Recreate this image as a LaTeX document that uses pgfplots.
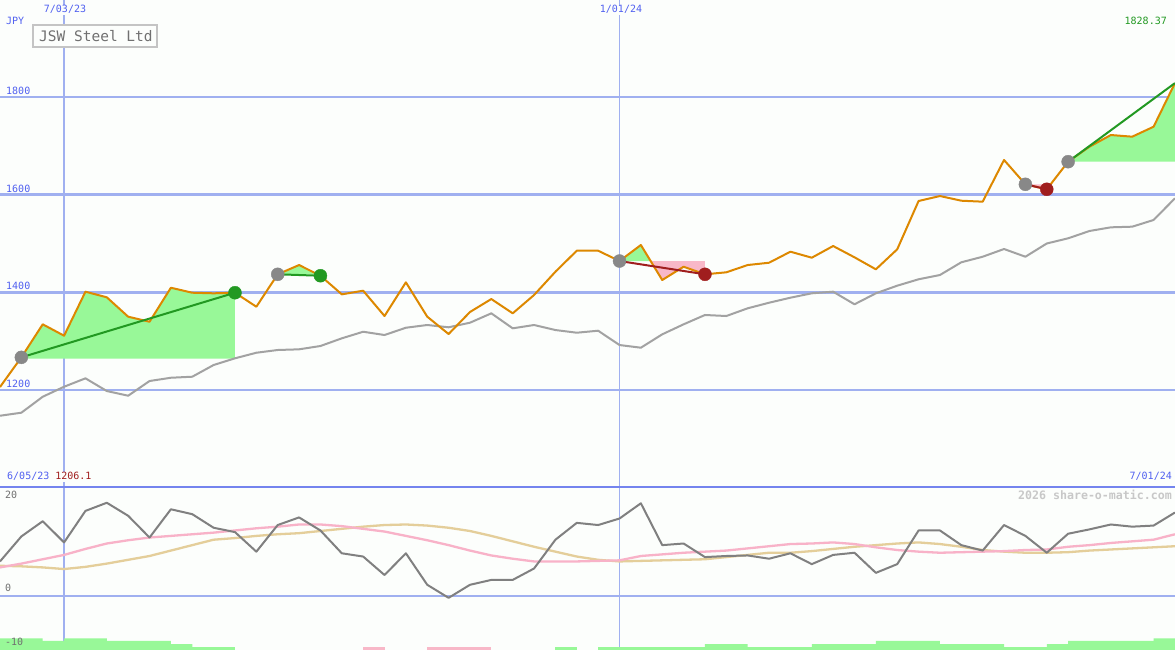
\documentclass[border=0pt]{standalone}
\usepackage{pgfplots}
\pgfplotsset{compat=1.18}
\usepackage{fontspec}
\setmainfont{DejaVu Sans Mono}

\definecolor{bgc}{RGB}{252,254,252}
\definecolor{txtblue}{RGB}{80,96,240}
\definecolor{gridblue}{RGB}{160,176,240}
\definecolor{sepblue}{RGB}{116,132,238}
\definecolor{price}{RGB}{221,136,0}
\definecolor{magray}{RGB}{162,162,162}
\definecolor{oscgray}{RGB}{128,128,128}
\definecolor{oscpink}{RGB}{248,178,200}
\definecolor{osctan}{RGB}{228,206,154}
\definecolor{fillgreen}{RGB}{152,248,152}
\definecolor{fillpink}{RGB}{248,184,200}
\definecolor{tradegreen}{RGB}{34,153,34}
\definecolor{tradered}{RGB}{160,30,30}
\definecolor{markgray}{RGB}{136,136,136}
\definecolor{boxgray}{RGB}{196,196,196}
\definecolor{titlegray}{RGB}{112,112,112}
\definecolor{wmgray}{RGB}{200,200,200}

\pgfplotsset{
  panel/.style={
    scale only axis, width=1175pt, xmin=0, xmax=55,
    hide axis, clip=true,
  },
  pline/.style={line width=2pt, line join=round, mark=none},
}

\begin{document}
\begin{tikzpicture}
\fill[bgc] (0,0) rectangle (1175pt,650pt);

% ---------------- price panel ----------------
\begin{axis}[panel, at={(0pt,163pt)}, height=487pt, ymin=1001.4, ymax=1998.6]
\draw[gridblue, line width=2.5pt] (axis cs:0,1200) -- (axis cs:55,1200);
\draw[gridblue, line width=2.5pt] (axis cs:0,1400) -- (axis cs:55,1400);
\draw[gridblue, line width=2.5pt] (axis cs:0,1600) -- (axis cs:55,1600);
\draw[gridblue, line width=2.5pt] (axis cs:0,1800) -- (axis cs:55,1800);
\draw[gridblue, line width=2.5pt] (axis cs:3,1001.4) -- (axis cs:3,1998.6);
\draw[gridblue, line width=1.2pt] (axis cs:29,1001.4) -- (axis cs:29,1998.6);

% trade areas
\addplot[fill=fillgreen, draw=none] coordinates {
  (1,1264) (1,1266.9) (2,1334.5) (3,1311.2) (4,1401.3) (5,1389.8) (6,1350.1)
  (7,1339.8) (8,1409.4) (9,1399.2) (10,1398) (11,1399.2) (11,1264)} -- cycle;
\addplot[fill=fillgreen, draw=none] coordinates {
  (13,1436.9) (14,1455.9) (14.87,1436.9)} -- cycle;
\addplot[fill=fillgreen, draw=none] coordinates {
  (29,1464.1) (30,1496.9) (30.46,1464.1)} -- cycle;
\addplot[fill=fillpink, draw=none] coordinates {
  (30.46,1464.1) (31,1425.2) (32,1452.4) (33,1436.9) (33,1464.1)} -- cycle;
\addplot[fill=fillpink, draw=none] coordinates {
  (48,1621.2) (49,1611) (49,1621.2)} -- cycle;
\addplot[fill=fillgreen, draw=none] coordinates {
  (50,1667.5) (51,1698.2) (52,1722.1) (53,1718.7) (54,1739.1) (55,1828.37)
  (55,1667.5)} -- cycle;

% moving average
\addplot[pline, magray] coordinates {
  (0,1147.3) (1,1153.5) (2,1186.2) (3,1206.7) (4,1223.9) (5,1197.9) (6,1188.3)
  (7,1218.4) (8,1225.1) (9,1227.2) (10,1251.2) (11,1264.9) (12,1276.3)
  (13,1281.9) (14,1283.3) (15,1290.1) (16,1305.8) (17,1319.3) (18,1312.6)
  (19,1327.5) (20,1333.1) (21,1328.4) (22,1337.8) (23,1357) (24,1326.3)
  (25,1333.1) (26,1322.8) (27,1317.3) (28,1321.4) (29,1292.1) (30,1286.6)
  (31,1314) (32,1334.5) (33,1353.6) (34,1351.5) (35,1367.3) (36,1378.7)
  (37,1389) (38,1398) (39,1401.3) (40,1375.5) (41,1398) (42,1413.6)
  (43,1426.7) (44,1435.5) (45,1461.5) (46,1472.9) (47,1488.7) (48,1472.9)
  (49,1500) (50,1510.6) (51,1525.6) (52,1533.1) (53,1534.4) (54,1548.1)
  (55,1592.5)};

% price
\addplot[pline, price] coordinates {
  (0,1206.1) (1,1266.9) (2,1334.5) (3,1311.2) (4,1401.3) (5,1389.8) (6,1350.1)
  (7,1339.8) (8,1409.4) (9,1399.2) (10,1398) (11,1399.2) (12,1370.5)
  (13,1436.9) (14,1455.9) (15,1434) (16,1395.9) (17,1403.3) (18,1351.5)
  (19,1420.5) (20,1350.1) (21,1314.6) (22,1359.7) (23,1386.3) (24,1357)
  (25,1394.5) (26,1442.2) (27,1485.2) (28,1485.2) (29,1464.1) (30,1496.9)
  (31,1425.2) (32,1452.4) (33,1436.9) (34,1441) (35,1455.9) (36,1460.6)
  (37,1483.2) (38,1470.9) (39,1494.8) (40,1471.7) (41,1447.1) (42,1488.1)
  (43,1587) (44,1597.2) (45,1587.6) (46,1585.6) (47,1671) (48,1621.2)
  (49,1611) (50,1667.5) (51,1698.2) (52,1722.1) (53,1718.7) (54,1739.1)
  (55,1828.37)};

% trade lines
\addplot[pline, tradegreen] coordinates {(1,1266.9) (11,1399.2)};
\addplot[pline, tradegreen] coordinates {(13,1436.9) (15,1434)};
\addplot[pline, tradegreen] coordinates {(50,1667.5) (55,1828.37)};
\addplot[pline, tradered] coordinates {(29,1464.1) (33,1436.9)};
\addplot[pline, tradered] coordinates {(48,1621.2) (49,1611)};

% trade markers
\addplot[only marks, mark=*, mark size=6.5pt, markgray, mark options={draw=none}]
  coordinates {(1,1266.9) (13,1436.9) (29,1464.1) (48,1621.2) (50,1667.5)};
\addplot[only marks, mark=*, mark size=6.5pt, tradegreen, mark options={draw=none}]
  coordinates {(11,1399.2) (15,1434)};
\addplot[only marks, mark=*, mark size=6.5pt, tradered, mark options={draw=none}]
  coordinates {(33,1436.9) (49,1611)};
\end{axis}

% ---------------- oscillator panel ----------------
\begin{axis}[panel, at={(0pt,0pt)}, height=163pt, ymin=-10, ymax=20]
\draw[gridblue, line width=2.2pt] (axis cs:0,0) -- (axis cs:55,0);
\draw[gridblue, line width=2.5pt] (axis cs:3,-10) -- (axis cs:3,20);
\draw[gridblue, line width=1.2pt] (axis cs:29,-10) -- (axis cs:29,20);

% histogram blocks
\addplot[fill=fillgreen, draw=none] coordinates {
  (0,-10) (0,-7.85) (2,-7.85) (2,-8.34) (3,-8.34) (3,-7.85) (5,-7.85)
  (5,-8.34) (8,-8.34) (8,-8.9) (9,-8.9) (9,-9.45) (11,-9.45) (11,-10)} -- cycle;
\addplot[fill=fillpink, draw=none] coordinates {
  (17,-10) (17,-9.45) (18,-9.45) (18,-10)} -- cycle;
\addplot[fill=fillpink, draw=none] coordinates {
  (20,-10) (20,-9.45) (23,-9.45) (23,-10)} -- cycle;
\addplot[fill=fillgreen, draw=none] coordinates {
  (26,-10) (26,-9.45) (27,-9.45) (27,-10)} -- cycle;
\addplot[fill=fillgreen, draw=none] coordinates {
  (28,-10) (28,-9.45) (33,-9.45) (33,-8.9) (35,-8.9) (35,-9.45) (38,-9.45)
  (38,-8.9) (41,-8.9) (41,-8.34) (44,-8.34) (44,-8.9) (47,-8.9) (47,-9.45)
  (49,-9.45) (49,-8.9) (50,-8.9) (50,-8.34) (54,-8.34) (54,-7.85) (55,-7.85)
  (55,-10)} -- cycle;

% signal lines
\addplot[pline, osctan, line width=2.3pt] coordinates {
  (0,5.5) (1,5.4) (2,5.2) (3,4.9) (4,5.3) (5,5.9) (6,6.6) (7,7.3) (8,8.3)
  (9,9.3) (10,10.3) (11,10.6) (12,11) (13,11.3) (14,11.5) (15,11.9) (16,12.3)
  (17,12.7) (18,13) (19,13.1) (20,12.9) (21,12.5) (22,11.9) (23,11) (24,10)
  (25,9) (26,8.1) (27,7.2) (28,6.6) (29,6.3) (30,6.4) (31,6.5) (32,6.6)
  (33,6.7) (34,7.1) (35,7.5) (36,7.9) (37,7.9) (38,8.2) (39,8.6) (40,9)
  (41,9.3) (42,9.6) (43,9.8) (44,9.5) (45,9) (46,8.4) (47,8.1) (48,7.9)
  (49,7.9) (50,8) (51,8.3) (52,8.5) (53,8.7) (54,8.9) (55,9.1)};
\addplot[pline, oscpink, line width=2.3pt] coordinates {
  (0,5.2) (1,5.9) (2,6.7) (3,7.5) (4,8.6) (5,9.6) (6,10.2) (7,10.7) (8,11)
  (9,11.3) (10,11.6) (11,12) (12,12.4) (13,12.7) (14,13.1) (15,13.1) (16,12.8)
  (17,12.3) (18,11.8) (19,11) (20,10.2) (21,9.3) (22,8.3) (23,7.4) (24,6.8)
  (25,6.3) (26,6.3) (27,6.3) (28,6.4) (29,6.5) (30,7.3) (31,7.6) (32,7.9)
  (33,8.1) (34,8.3) (35,8.7) (36,9.1) (37,9.5) (38,9.6) (39,9.8) (40,9.5)
  (41,8.9) (42,8.4) (43,8.1) (44,7.9) (45,8) (46,8.1) (47,8.2) (48,8.4)
  (49,8.5) (50,9) (51,9.3) (52,9.7) (53,10) (54,10.3) (55,11.3)};
\addplot[pline, oscgray] coordinates {
  (0,6.3) (1,10.9) (2,13.7) (3,9.8) (4,15.6) (5,17.1) (6,14.7) (7,10.7)
  (8,15.9) (9,15) (10,12.5) (11,11.7) (12,8.1) (13,13) (14,14.4) (15,12)
  (16,7.8) (17,7.2) (18,3.8) (19,7.8) (20,2) (21,-0.4) (22,2) (23,2.9)
  (24,2.9) (25,5) (26,10.3) (27,13.4) (28,13) (29,14.2) (30,17) (31,9.3)
  (32,9.6) (33,7.1) (34,7.3) (35,7.4) (36,6.8) (37,7.8) (38,5.8) (39,7.5)
  (40,7.9) (41,4.2) (42,5.8) (43,12) (44,12) (45,9.3) (46,8.3) (47,13)
  (48,11) (49,7.9) (50,11.4) (51,12.2) (52,13.1) (53,12.7) (54,12.9) (55,15.3)};
\end{axis}

% ---------------- labels (pixel coordinates, y down) ----------------
\begin{scope}[x=1pt, y=-1pt, shift={(0pt,650pt)}]
\draw[sepblue, line width=2.5pt] (0,487) -- (1175,487);
\fontsize{10}{12}\selectfont
\node[anchor=base, txtblue, fill=bgc, inner sep=1pt] at (65,13) {7/03/23};
\node[anchor=base, txtblue, fill=bgc, inner sep=1pt] at (621,13) {1/01/24};
\node[anchor=base west, txtblue, inner sep=0pt] at (6,25) {JPY};
\node[anchor=base west, txtblue, inner sep=0pt] at (6,95) {1800};
\node[anchor=base west, txtblue, inner sep=0pt] at (6,193) {1600};
\node[anchor=base west, txtblue, inner sep=0pt] at (6,290) {1400};
\node[anchor=base west, txtblue, inner sep=0pt] at (6,388) {1200};
\node[anchor=base east, tradegreen, inner sep=0pt] at (1167,25) {1828.37};
\node[anchor=base west, fill=bgc, inner sep=1pt] at (6,480)
  {\textcolor{txtblue}{6/05/23} \textcolor{tradered}{1206.1}};
\node[anchor=base east, txtblue, inner sep=0pt] at (1172,480) {7/01/24};
\node[anchor=base west, titlegray, inner sep=0pt] at (5,499) {20};
\node[anchor=base west, titlegray, inner sep=0pt] at (5,592) {0};
\node[anchor=base west, titlegray, inner sep=0pt] at (5,646) {-10};
\node[anchor=base east, wmgray, inner sep=0pt, font=\fontsize{11.6}{13}\selectfont\bfseries]
  at (1172,500) {2026 share-o-matic.com};
\draw[boxgray, fill=bgc, line width=2pt] (33.3,25.3) rectangle (157.3,47.3);
\node[anchor=base west, titlegray, inner sep=0pt, font=\fontsize{14.5}{16}\selectfont]
  at (39,41.5) {JSW Steel Ltd};
\end{scope}

\pgfresetboundingbox
\path[use as bounding box] (0,0) rectangle (1175pt,650pt);
\end{tikzpicture}
\end{document}
